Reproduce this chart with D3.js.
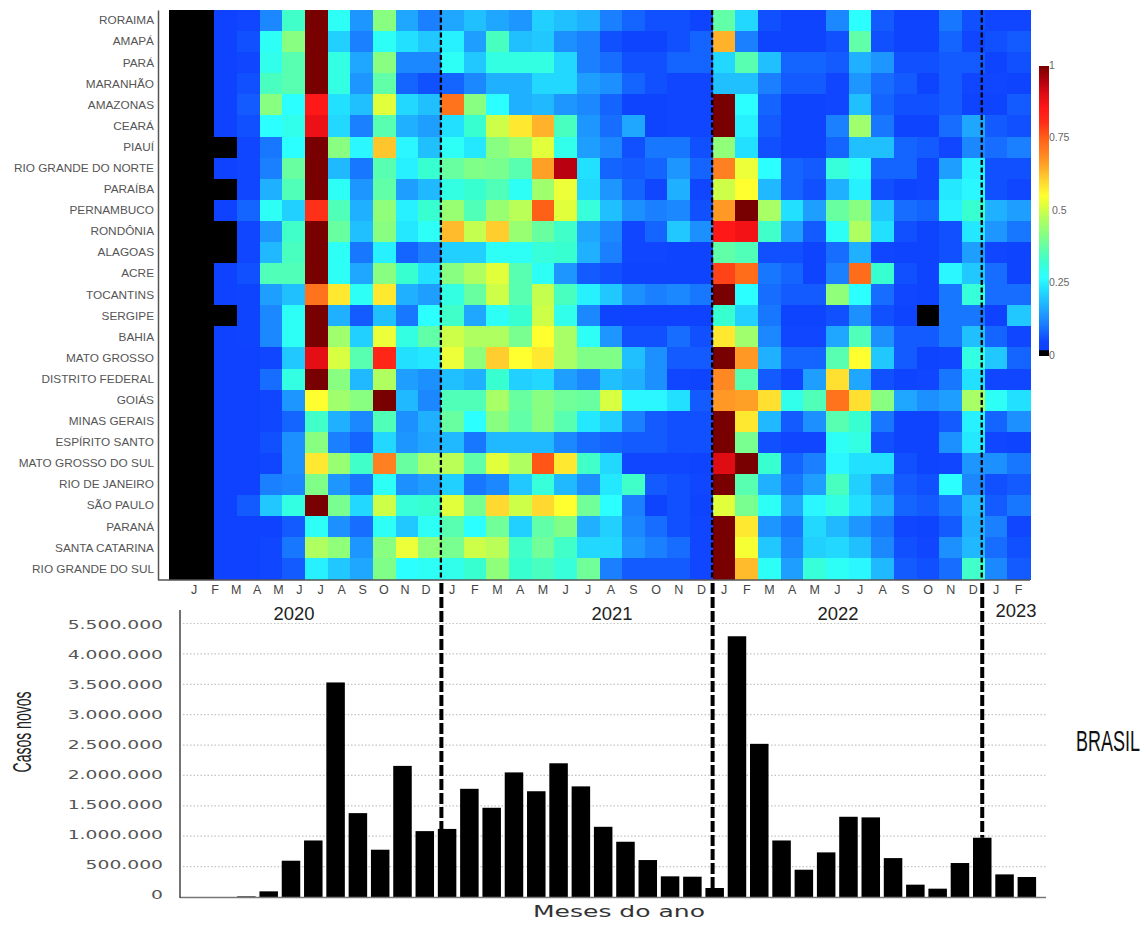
<!DOCTYPE html>
<html><head><meta charset="utf-8">
<script src="https://cdn.jsdelivr.net/npm/d3@7"></script>
<style>html,body{margin:0;background:#fff}svg{display:block}</style></head>
<body><div id="c"></div>
<script>
const states=["RORAIMA","AMAPÁ","PARÁ","MARANHÃO","AMAZONAS","CEARÁ","PIAUÍ","RIO GRANDE DO NORTE","PARAÍBA","PERNAMBUCO","RONDÔNIA","ALAGOAS","ACRE","TOCANTINS","SERGIPE","BAHIA","MATO GROSSO","DISTRITO FEDERAL","GOIÁS","MINAS GERAIS","ESPÍRITO SANTO","MATO GROSSO DO SUL","RIO DE JANEIRO","SÃO PAULO","PARANÁ","SANTA CATARINA","RIO GRANDE DO SUL"];
const monthLetters=["J","F","M","A","M","J","J","A","S","O","N","D"];
const years=["2020","2021","2022","2023"];
const incidence=[
[0,0,.03,.05,.12,.33,1,.28,.14,.42,.16,.11,.16,.19,.16,.14,.21,.19,.17,.11,.08,.06,.06,.04,.37,.22,.06,.04,.04,.12,.27,.07,.04,.04,.1,.06,.05,.05],
[0,0,.03,.06,.28,.42,1,.21,.11,.28,.23,.2,.25,.15,.34,.19,.2,.13,.11,.06,.04,.04,.06,.08,.64,.11,.04,.04,.04,.06,.37,.06,.04,.04,.08,.05,.06,.07],
[0,0,.03,.05,.29,.36,1,.3,.16,.42,.12,.12,.28,.2,.3,.3,.3,.22,.11,.09,.06,.06,.08,.08,.22,.36,.19,.08,.08,.07,.17,.14,.06,.06,.07,.07,.04,.06],
[0,0,.03,.06,.34,.36,1,.3,.14,.37,.08,.06,.08,.12,.17,.17,.22,.22,.15,.13,.08,.06,.05,.05,.19,.19,.11,.07,.07,.05,.14,.09,.07,.04,.07,.05,.05,.04],
[0,0,.03,.07,.42,.27,.85,.23,.19,.52,.22,.19,.72,.42,.27,.17,.18,.14,.12,.08,.04,.04,.05,.05,1,.27,.08,.04,.04,.05,.19,.08,.06,.06,.07,.04,.04,.07],
[0,0,.03,.06,.27,.29,.88,.22,.11,.36,.17,.15,.23,.32,.5,.58,.64,.34,.14,.09,.16,.04,.05,.05,1,.25,.07,.04,.04,.11,.45,.1,.04,.04,.09,.16,.07,.06],
[0,0,0,.05,.1,.27,1,.42,.26,.62,.26,.19,.28,.24,.42,.45,.52,.29,.15,.12,.06,.1,.1,.06,.43,.23,.06,.04,.04,.08,.19,.19,.08,.07,.05,.12,.09,.11],
[0,0,.03,.05,.11,.38,1,.18,.1,.36,.25,.32,.38,.41,.4,.36,.66,.94,.23,.08,.07,.08,.14,.08,.7,.53,.27,.08,.07,.31,.28,.08,.08,.05,.15,.25,.06,.06],
[0,0,0,.05,.17,.35,1,.28,.14,.37,.15,.18,.3,.32,.35,.28,.45,.53,.22,.14,.08,.05,.17,.05,.5,.55,.18,.08,.06,.17,.25,.06,.04,.05,.24,.26,.06,.05],
[0,0,.03,.08,.28,.21,.8,.35,.17,.43,.25,.32,.44,.35,.44,.48,.75,.52,.31,.19,.13,.11,.12,.06,.67,1,.46,.23,.15,.38,.42,.2,.09,.08,.25,.32,.17,.15],
[0,0,0,.05,.14,.33,1,.38,.19,.42,.24,.28,.63,.49,.61,.44,.38,.33,.16,.12,.05,.08,.2,.13,.85,.87,.33,.15,.07,.28,.47,.23,.06,.04,.06,.24,.14,.1],
[0,0,0,.05,.18,.34,1,.28,.1,.25,.08,.11,.21,.21,.28,.28,.31,.32,.17,.11,.05,.05,.04,.04,.37,.35,.06,.06,.04,.09,.17,.05,.04,.04,.06,.15,.05,.04],
[0,0,.03,.06,.35,.35,1,.28,.16,.42,.32,.23,.42,.47,.52,.36,.28,.14,.07,.06,.04,.04,.04,.04,.78,.73,.1,.08,.04,.11,.73,.32,.06,.04,.26,.2,.09,.04],
[0,0,.03,.04,.15,.19,.72,.58,.28,.58,.17,.15,.3,.38,.5,.36,.49,.34,.25,.2,.13,.11,.12,.1,1,.27,.09,.07,.07,.43,.27,.09,.05,.04,.1,.31,.09,.09],
[0,0,0,.04,.12,.28,1,.17,.07,.19,.1,.27,.33,.16,.28,.32,.5,.29,.12,.04,.03,.03,.03,.03,.32,.21,.1,.04,.04,.06,.13,.06,.04,0,.1,.1,.03,.2],
[0,0,.03,.04,.12,.28,1,.45,.21,.53,.3,.37,.5,.47,.47,.4,.55,.46,.28,.14,.06,.06,.09,.06,.58,.45,.12,.05,.05,.16,.35,.13,.07,.07,.1,.19,.08,.05],
[0,0,.03,.03,.05,.2,.89,.51,.36,.82,.23,.24,.53,.43,.61,.55,.58,.46,.41,.41,.19,.13,.07,.07,1,.67,.17,.08,.08,.36,.55,.2,.07,.04,.05,.3,.2,.08],
[0,0,.03,.03,.09,.3,1,.42,.18,.47,.15,.13,.19,.17,.32,.21,.22,.15,.12,.19,.17,.13,.05,.04,.69,.36,.07,.05,.15,.59,.16,.06,.04,.05,.1,.23,.05,.05],
[0,0,.03,.03,.05,.14,.55,.45,.42,1,.18,.12,.35,.35,.46,.38,.42,.39,.38,.51,.26,.26,.23,.07,.67,.66,.59,.29,.35,.72,.59,.42,.16,.13,.15,.46,.28,.23],
[0,0,.03,.03,.05,.08,.33,.17,.12,.35,.13,.17,.38,.27,.42,.37,.42,.36,.24,.21,.11,.07,.06,.06,1,.58,.18,.07,.13,.36,.32,.1,.04,.04,.07,.25,.08,.13],
[0,0,.03,.03,.06,.13,.42,.11,.08,.22,.14,.16,.18,.1,.18,.18,.18,.12,.09,.08,.07,.07,.06,.06,1,.4,.06,.05,.05,.28,.3,.06,.04,.04,.13,.24,.05,.04],
[0,0,.03,.03,.05,.13,.58,.44,.33,.7,.38,.46,.48,.37,.52,.47,.76,.58,.33,.22,.05,.05,.05,.04,.9,1,.32,.08,.11,.26,.23,.23,.06,.04,.05,.14,.13,.1],
[0,0,.03,.03,.11,.12,.41,.14,.1,.28,.13,.15,.21,.1,.12,.2,.31,.18,.13,.24,.33,.07,.06,.05,1,.36,.17,.1,.15,.34,.21,.13,.07,.06,.27,.12,.06,.07],
[0,0,.03,.07,.2,.3,1,.4,.22,.5,.31,.32,.52,.4,.6,.5,.6,.55,.39,.27,.11,.04,.06,.04,.52,.4,.28,.16,.26,.3,.23,.17,.08,.07,.1,.18,.07,.1],
[0,0,.03,.03,.03,.07,.28,.13,.09,.28,.2,.28,.36,.27,.39,.21,.37,.41,.17,.21,.12,.09,.06,.05,1,.58,.14,.1,.22,.18,.14,.1,.05,.04,.07,.17,.11,.05],
[0,0,.03,.03,.05,.1,.47,.43,.14,.42,.53,.43,.4,.5,.48,.33,.39,.33,.22,.22,.14,.11,.09,.05,1,.54,.2,.12,.21,.22,.19,.12,.06,.05,.13,.18,.09,.06],
[0,0,.03,.03,.05,.07,.25,.2,.16,.41,.27,.28,.29,.32,.43,.32,.34,.31,.39,.11,.07,.07,.07,.05,1,.63,.28,.15,.31,.28,.26,.18,.07,.06,.09,.33,.12,.07]
];
const brasilCases=[0,0,0,10000,93000,597000,930000,3530000,1380000,778000,2157000,1084000,1120000,1780000,1468000,2050000,1740000,2200000,1820000,1155000,909000,608000,340000,334000,148000,4290000,2520000,930000,449000,734000,1320000,1310000,640000,203000,137000,559000,975000,372000,329000];
const yTickValues=[0,500000,1000000,1500000,2000000,2500000,3000000,3500000,4000000,4500000];
const yTickLabels=["0","500.000","1.000.000","1.500.000","2.000.000","2.500.000","3.000.000","3.500.000","4.000.000","5.500.000"];
const colorStops=[0,.017,.018,.05,.08,.11,.15,.19,.23,.27,.32,.37,.42,.47,.51,.55,.6,.65,.7,.75,.8,.85,.9,.94,1];
const colorRamp=["#000","#000","#0e40ff","#1046ff","#1464ff","#1a80ff","#1e9fff","#20c0ff","#22e0ff","#2cffff","#38ffd0","#60ffa8","#88ff80","#b0ff60","#d8ff40","#ffff30","#ffd830","#ffa828","#ff8020","#ff6018","#ff3018","#ff1818","#e00c14","#b80010","#780000"];
const legendTicks=[0,.25,.5,.75,1];
const yearBreaks=[12,23.97,35.87];

const W=1145,H=925;
const svg=d3.select("#c").append("svg").attr("width",W).attr("height",H).style("font-family","'Liberation Sans',Arial,sans-serif");
const color=d3.scaleLinear().domain(colorStops).range(colorRamp).clamp(true);

/* heatmap */
const hx=d3.scaleLinear().domain([0,38]).range([169,1030]);
const hy=d3.scaleBand().domain(states).range([10,579.5]);
const cells=svg.append("g").attr("shape-rendering","crispEdges");
incidence.forEach((row,r)=>{
  cells.selectAll(null).data(row).join("rect")
    .attr("x",(d,k)=>hx(k)).attr("y",hy(states[r]))
    .attr("width",(d,k)=>hx(k+1)-hx(k)+.5).attr("height",hy.bandwidth()+.5)
    .attr("fill",d=>d<=0?"#000":color(d));
});

/* state axis */
const axisY=svg.append("g").attr("transform","translate(158,0)").call(d3.axisLeft(hy).tickSize(0).tickPadding(4));
axisY.select(".domain").attr("stroke","#555").attr("stroke-width",1.5);
axisY.selectAll("text").attr("font-size",11.8).attr("fill","#555").attr("font-family","'Liberation Sans',Arial,sans-serif");
svg.append("line").attr("x1",158).attr("x2",1030).attr("y1",580).attr("y2",580).attr("stroke","#555").attr("stroke-width",1.5);

/* month letters */
const labelGroups=[
 {months:12,x:d3.scaleLinear().domain([0,11]).range([194,426])},
 {months:12,x:i=>hx(12+i+.5)},
 {months:12,x:i=>hx(24+i+.5)},
 {months:2,x:i=>hx(36+i+.5)}
];
labelGroups.forEach(g=>{
  svg.append("g").selectAll("text").data(monthLetters.slice(0,g.months)).join("text")
    .attr("x",(d,i)=>g.x(i)).attr("y",594).attr("text-anchor","middle")
    .attr("font-size",12.5).attr("fill","#444").text(d=>d);
});

/* year labels */
const yearX=d3.scaleOrdinal().domain(years).range([294,612,838,1016]);
const yearY=d3.scaleOrdinal().domain(years).range([620,620,620,617]);
svg.append("g").selectAll("text").data(years).join("text")
  .attr("x",d=>yearX(d)).attr("y",d=>yearY(d)).attr("text-anchor","middle")
  .attr("font-size",19).attr("fill","#222").attr("font-family","'Liberation Sans Narrow','Liberation Sans',sans-serif")
  .attr("textLength",41).attr("lengthAdjust","spacingAndGlyphs").text(d=>d);

/* legend */
const ly=d3.scaleLinear().domain([0,1]).range([355.5,66]);
svg.append("g").attr("shape-rendering","crispEdges").selectAll("rect").data(d3.range(0,1,1/290)).join("rect")
  .attr("x",1039).attr("width",10).attr("y",d=>ly(d)-1).attr("height",1.5).attr("fill",d=>color(d));
svg.append("g").selectAll("text").data(legendTicks).join("text")
  .attr("x",d=>d===.5?1052:1049).attr("y",d=>ly(d)+3).attr("font-size",10.5).attr("fill","#666")
  .text(d=>d);

/* bars */
const by=d3.scaleLinear().domain([0,4500000]).range([897,623.5]);
const bx=d3.scaleBand().domain(d3.range(brasilCases.length)).range([168.35,1038]).paddingInner(.17).paddingOuter(.085);
const gridG=svg.append("g");
gridG.selectAll("line").data(yTickValues.slice(1)).join("line")
  .attr("x1",183).attr("x2",1046).attr("y1",d=>by(d)).attr("y2",d=>by(d))
  .attr("stroke","#c4c4c4").attr("stroke-width",1.2).attr("stroke-dasharray","1.5 2");

/* dashed year separators */
const sep=svg.append("g");
yearBreaks.forEach((b,i)=>{
  const x=hx(b);
  sep.append("line").attr("x1",x).attr("x2",x).attr("y1",10).attr("y2",578)
    .attr("stroke","#000").attr("stroke-width",2.3).attr("stroke-dasharray","5 2.5");
  sep.append("line").attr("x1",x+.5).attr("x2",x+.5).attr("y1",583).attr("y2",by(brasilCases[12*(i+1)]))
    .attr("stroke","#000").attr("stroke-width",4).attr("stroke-dasharray","11 3");
});

svg.append("g").selectAll("rect").data(brasilCases).join("rect")
  .attr("x",(d,i)=>bx(i)).attr("width",bx.bandwidth())
  .attr("y",d=>by(d)).attr("height",d=>by(0)-by(d)).attr("fill","#000");

svg.append("line").attr("x1",180).attr("x2",1046).attr("y1",897.5).attr("y2",897.5).attr("stroke","#777").attr("stroke-width",1.5);
svg.append("line").attr("x1",180).attr("x2",180).attr("y1",610).attr("y2",898).attr("stroke","#444").attr("stroke-width",1.5);

const yAxis=svg.append("g").attr("transform","translate(163,0)")
  .call(d3.axisLeft(by).tickValues(yTickValues).tickSize(0).tickPadding(0).tickFormat((d,i)=>yTickLabels[i]));
yAxis.select(".domain").remove();
yAxis.selectAll("text").attr("font-family","'DejaVu Sans',sans-serif").attr("font-size",12.5).attr("fill","#555")
  .attr("dy",(d,i)=>(1.5+i/9*3)+"px")
  .attr("textLength",(d,i)=>{const s=yTickLabels[i];return s.replace(/\./g,"").length*11.9+(s.match(/\./g)||[]).length*6;})
  .attr("lengthAdjust","spacingAndGlyphs");

/* condensed captions: stretched by transform so they stay inside the page */
function fitText(str,x,y,rot,size,width,fam,fill,anchor){
  const t=svg.append("text").attr("font-size",size).attr("font-family",fam).attr("fill",fill)
    .attr("text-anchor",anchor).text(str);
  const natural=t.node().getComputedTextLength();
  t.attr("transform",`translate(${x},${y}) rotate(${rot}) scale(${width/natural},1)`);
}
const narrow="'Liberation Sans Narrow','Liberation Sans',sans-serif";
fitText("Casos novos",31,732,-90,25,81,narrow,"#222","middle");
fitText("Meses do ano",619,917,0,15,172,"'DejaVu Sans',sans-serif","#333","middle");
fitText("BRASIL",1076,751,0,30,64,narrow,"#111","start");
</script></body></html>
